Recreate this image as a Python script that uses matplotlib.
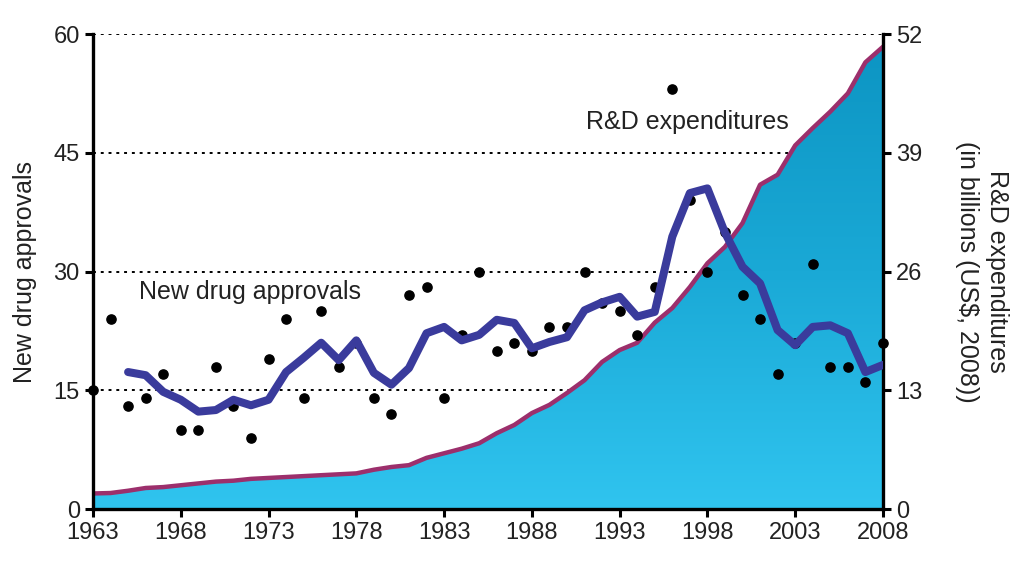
import numpy as np
import matplotlib.pyplot as plt
from matplotlib.colors import LinearSegmentedColormap

plt.rcParams['font.family'] = ['Liberation Sans', 'DejaVu Sans']

# yearly new drug approvals (dots)
dot_years = list(range(1963, 2009))
approvals = [15, 24, 13, 14, 17, 10, 10, 18, 13, 9,
             19, 24, 14, 25, 18, 21, 14, 12, 27, 28,
             14, 22, 30, 20, 21, 20, 23, 23, 30, 26,
             25, 22, 28, 53, 39, 30, 35, 27, 24, 17,
             21, 31, 18, 18, 16, 21]

# smoothed approvals (thick blue line)
avg_years = list(range(1965, 2009))
approvals_avg = [17.3, 16.9, 14.8, 13.8, 12.3, 12.5, 13.8, 13.1, 13.8, 17.3,
                 19.1, 21.0, 18.8, 21.3, 17.2, 15.7, 17.8, 22.2, 23.0, 21.3,
                 22.0, 23.9, 23.5, 20.3, 21.1, 21.7, 25.1, 26.1, 26.8, 24.3,
                 24.9, 34.4, 39.9, 40.5, 34.9, 30.6, 28.5, 22.6, 20.7, 23.0,
                 23.2, 22.2, 17.3, 18.2]

# R&D expenditures, billions US$ 2008
rd_years = list(range(1963, 2009))
rd_spend = [1.7, 1.75, 2.0, 2.3, 2.4, 2.6, 2.8, 3.0, 3.1, 3.3,
            3.4, 3.5, 3.6, 3.7, 3.8, 3.9, 4.3, 4.6, 4.8, 5.6,
            6.1, 6.6, 7.2, 8.3, 9.2, 10.5, 11.4, 12.7, 14.1, 16.1,
            17.4, 18.2, 20.4, 22.0, 24.3, 26.9, 28.7, 31.3, 35.5, 36.6,
            39.8, 41.7, 43.5, 45.5, 48.9, 50.6]

left_ticks = [0, 15, 30, 45, 60]
right_ticks = [0, 13, 26, 39, 52]
year_ticks = list(range(1963, 2009, 5))

fig = plt.figure(figsize=(10.23, 5.62), dpi=100)
ax = fig.add_axes([0.0909, 0.0943, 0.7722, 0.8452])
ax2 = ax.twinx()

# host axes: R&D on the right, with the grid and the blue area
ax.set_xlim(1963, 2008)
ax.set_ylim(0, 52)
ax.yaxis.tick_right()
ax.yaxis.set_label_position('right')
ax.set_yticks(right_ticks)
ax.set_xticks(year_ticks)
ax.set_axisbelow(True)
ax.grid(axis='y', color='black', linestyle=(0, (1.5, 2.5)), linewidth=1.4)
ax.grid(axis='x', visible=False)

poly = ax.fill_between(rd_years, 0, rd_spend, facecolor='none', edgecolor='none')
cmap = LinearSegmentedColormap.from_list('rd', ['#30c4ef', '#1aa9d6', '#0c94c2'])
grad = np.linspace(0, 1, 256).reshape(-1, 1)
img = ax.imshow(grad, cmap=cmap, origin='lower', aspect='auto',
                extent=[1963, 2008, 0, 52], zorder=1.5)
img.set_clip_path(poly.get_paths()[0], transform=ax.transData)
ax.plot(rd_years, rd_spend, color='#9c2f6c', linewidth=3.2, zorder=2,
        solid_joinstyle='round')

# twin axes: approvals on the left
ax2.set_ylim(0, 60)
ax2.yaxis.tick_left()
ax2.yaxis.set_label_position('left')
ax2.set_yticks(left_ticks)
ax2.scatter(dot_years, approvals, s=44, color='black', zorder=3, clip_on=False)
ax2.plot(avg_years, approvals_avg, color='#3a3b9c', linewidth=5.8, zorder=4,
         solid_joinstyle='round', solid_capstyle='round')

for a in (ax, ax2):
    for s in a.spines.values():
        s.set_visible(False)
for side in ('left', 'right', 'bottom'):
    ax.spines[side].set_visible(True)
    ax.spines[side].set_linewidth(2.4)
    ax.spines[side].set_zorder(5)

ax.tick_params(axis='both', direction='out', length=6, width=2.2,
               labelsize=17, colors='black', labelcolor='#222222')
ax2.tick_params(axis='y', direction='out', length=6, width=2.2,
                labelsize=17, colors='black', labelcolor='#222222')

ax2.set_ylabel('New drug approvals', fontsize=18, color='#222222', labelpad=12)
ax.set_ylabel('R&D expenditures\n(in billions (US\\$, 2008))', fontsize=18,
              color='#222222', rotation=270, labelpad=62, linespacing=1.3)

ax2.text(1965.6, 27.4, 'New drug approvals', fontsize=18, color='#222222',
         ha='left', va='center', zorder=6)
ax2.text(1991.1, 48.9, 'R&D expenditures', fontsize=18, color='#222222',
         ha='left', va='center', zorder=6)

fig.savefig('out.png', dpi=100)
